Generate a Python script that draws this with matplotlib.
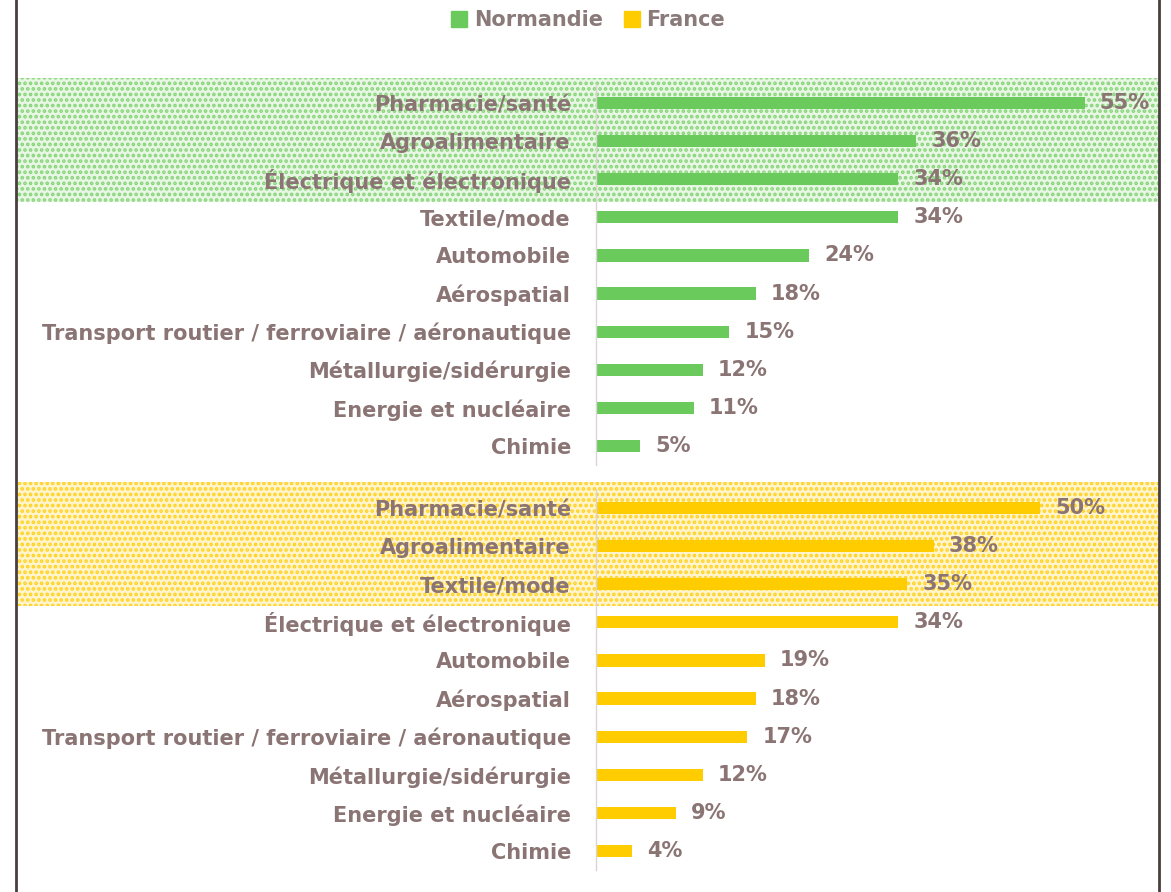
import matplotlib.pyplot as plt
from matplotlib.patches import Rectangle, Patch

secteurs_normandie = ['Pharmacie/santé', 'Agroalimentaire', 'Électrique et électronique',
                      'Textile/mode', 'Automobile', 'Aérospatial',
                      'Transport routier / ferroviaire / aéronautique',
                      'Métallurgie/sidérurgie', 'Energie et nucléaire', 'Chimie']
valeurs_normandie = [55, 36, 34, 34, 24, 18, 15, 12, 11, 5]

secteurs_france = ['Pharmacie/santé', 'Agroalimentaire', 'Textile/mode',
                   'Électrique et électronique', 'Automobile', 'Aérospatial',
                   'Transport routier / ferroviaire / aéronautique',
                   'Métallurgie/sidérurgie', 'Energie et nucléaire', 'Chimie']
valeurs_france = [50, 38, 35, 34, 19, 18, 17, 12, 9, 4]

vert = '#6acb5c'
jaune = '#ffcc00'
texte = '#8b7474'

plt.rcParams['font.family'] = ['DejaVu Sans']
plt.rcParams['hatch.linewidth'] = 1.8

W, H = 1171, 892
fig = plt.figure(figsize=(W / 100, H / 100), dpi=100)

# bandes pointillées derrière le top 3
def bande(y0, y1, fc, ec):
    r = Rectangle((16 / W, 1 - y1 / H), (1159 - 16) / W, (y1 - y0) / H,
                  transform=fig.transFigure, facecolor=fc, edgecolor=ec,
                  hatch='...', linewidth=0, zorder=0)
    fig.patches.append(r)

bande(78, 202, '#e8f6e4', '#86d478')
bande(482, 606, '#fff4cc', '#ffd21f')

# bords du cadre
for x in (16, 1159):
    fig.add_artist(plt.Line2D([x / W, x / W], [0, 1], transform=fig.transFigure,
                              color='#4a3f3f', linewidth=2, zorder=3))

def panneau(rect, secteurs, valeurs, couleur):
    ax = fig.add_axes(rect, zorder=2)
    ax.patch.set_alpha(0)
    pos = range(len(secteurs))
    ax.barh(pos, valeurs, height=0.32, color=couleur)
    for p, v in zip(pos, valeurs):
        ax.annotate(f'{v}%', (v, p), xytext=(11, 0), textcoords='offset points',
                    va='center', ha='left', fontsize=15, fontweight='bold', color=texte)
    ax.set_yticks(list(pos))
    ax.set_yticklabels(secteurs, fontsize=15, fontweight='bold', color=texte)
    ax.tick_params(axis='y', length=0, pad=18)
    ax.set_xticks([])
    ax.set_xlim(0, 60)
    ax.set_ylim(len(secteurs) - 0.5, -0.5)
    for s in ('top', 'right', 'bottom'):
        ax.spines[s].set_visible(False)
    ax.spines['left'].set_color('#dcd4d4')
    ax.spines['left'].set_linewidth(1)
    return ax

gauche = 596 / W
largeur = 533 / W
panneau([gauche, 1 - 465 / H, largeur, 381 / H], secteurs_normandie, valeurs_normandie, vert)
panneau([gauche, 1 - 870 / H, largeur, 381 / H], secteurs_france, valeurs_france, jaune)

fig.legend(handles=[Patch(color=vert, label='Normandie'), Patch(color=jaune, label='France')],
           loc='center', bbox_to_anchor=(588 / W, 1 - 20 / H), ncol=2, frameon=False,
           handlelength=0.8, handleheight=0.8, handletextpad=0.3, columnspacing=1.0,
           prop={'size': 15, 'weight': 'bold'}, labelcolor='#8a7a7a')

fig.savefig('out.png', dpi=100)
